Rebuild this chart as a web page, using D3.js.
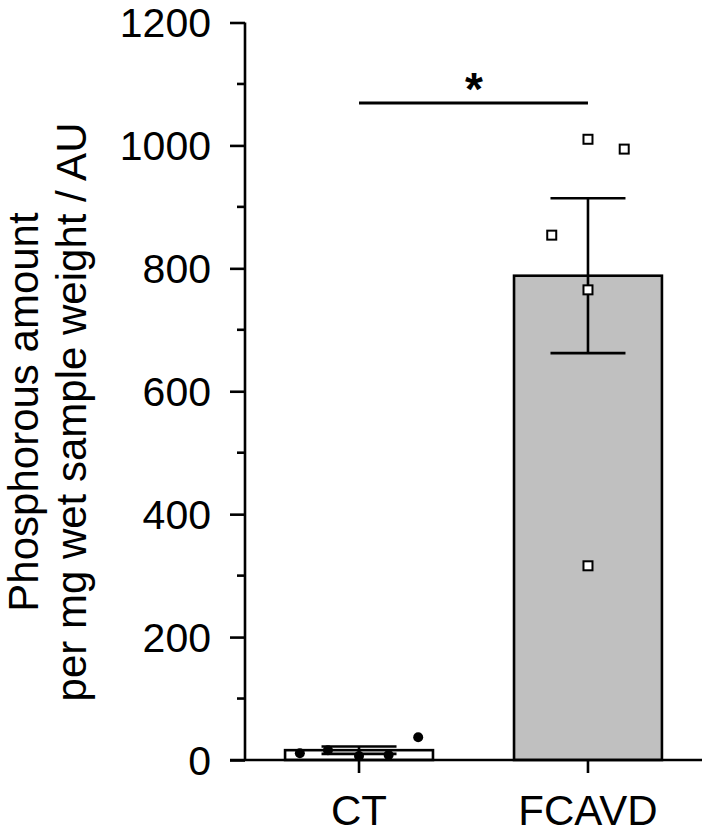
<!DOCTYPE html>
<html>
<head>
<meta charset="utf-8">
<script src="https://cdn.jsdelivr.net/npm/d3@7"></script>
<style>
  html, body { margin: 0; padding: 0; background: #fff; }
  svg { display: block; }
  text { font-family: "Liberation Sans", Arial, sans-serif; fill: #000; }
</style>
</head>
<body>
<svg id="chart" width="708" height="833"></svg>
<script>
// ---- data ----
const groups = ["CT", "FCAVD"];
const means = [16, 788];
const sems = [6, 126];
const ctValues = [11, 16, 6.5, 8, 37];
const ctJitter = [-0.4, -0.21, 0, 0.2, 0.4];
const fcavdValues = [1010, 994, 854, 765, 316];
const fcavdJitter = [0, 0.245, -0.245, 0, 0];
const yTicks = [0, 200, 400, 600, 800, 1000, 1200];
const yMinorTicks = [100, 300, 500, 700, 900, 1100];
const yTitle = ["Phosphorous amount", "per mg wet sample weight / AU"];
const significance = "*";

// ---- layout ----
const svg = d3.select("#chart");
const x0 = 245, x1 = 702, yTop = 22.5, yBot = 760;

const x = d3.scaleBand().domain(groups).range([x0, x1])
  .paddingInner(0.354).paddingOuter(0.175);
const y = d3.scaleLinear().domain([0, 1200]).range([yBot, yTop]);

const fills = ["#ffffff", "#c0c0c0"];
const lw = 2.6;

// bars
svg.append("g").selectAll("rect").data(groups).join("rect")
  .attr("x", d => x(d))
  .attr("y", (d, i) => y(means[i]))
  .attr("width", x.bandwidth())
  .attr("height", (d, i) => y(0) - y(means[i]))
  .attr("fill", (d, i) => fills[i])
  .attr("stroke", "#000")
  .attr("stroke-width", lw);

// error bars
const capW = 75;
const eb = svg.append("g").attr("stroke", "#000").attr("stroke-width", lw);
groups.forEach((g, i) => {
  const cx = x(g) + x.bandwidth() / 2;
  eb.append("line").attr("x1", cx).attr("x2", cx)
    .attr("y1", y(means[i] - sems[i])).attr("y2", y(means[i] + sems[i]));
  [means[i] - sems[i], means[i] + sems[i]].forEach(v => {
    eb.append("line").attr("x1", cx - capW / 2).attr("x2", cx + capW / 2)
      .attr("y1", y(v)).attr("y2", y(v));
  });
});

// points
const ctCx = x("CT") + x.bandwidth() / 2;
svg.append("g").selectAll("circle").data(ctValues).join("circle")
  .attr("cx", (d, i) => ctCx + ctJitter[i] * x.bandwidth())
  .attr("cy", d => y(d))
  .attr("r", 5)
  .attr("fill", "#000");

const fcCx = x("FCAVD") + x.bandwidth() / 2;
const sq = 9;
svg.append("g").selectAll("rect").data(fcavdValues).join("rect")
  .attr("x", (d, i) => fcCx + fcavdJitter[i] * x.bandwidth() - sq / 2)
  .attr("y", d => y(d) - sq / 2)
  .attr("width", sq).attr("height", sq)
  .attr("fill", "#fff")
  .attr("stroke", "#000")
  .attr("stroke-width", 2);

// y axis
const yAxis = svg.append("g").attr("transform", `translate(${x0},0)`)
  .call(d3.axisLeft(y).tickValues(yTicks).tickSize(15).tickPadding(19).tickFormat(d3.format("d")));
yAxis.select(".domain").attr("stroke-width", lw).attr("d", `M0,${yTop}V${yBot}`);
yAxis.selectAll(".tick line").attr("stroke-width", lw);
yAxis.selectAll(".tick text").attr("font-size", 41).attr("font-family", "Liberation Sans, Arial, sans-serif").attr("dy", "0.35em");
svg.append("g").attr("transform", `translate(${x0},0)`)
  .selectAll("line").data(yMinorTicks).join("line")
  .attr("x1", -8).attr("x2", 0)
  .attr("y1", d => y(d)).attr("y2", d => y(d))
  .attr("stroke", "#000").attr("stroke-width", lw);

// x axis
const xAxis = svg.append("g").attr("transform", `translate(0,${yBot})`)
  .call(d3.axisBottom(x).tickSize(13).tickPadding(22));
xAxis.select(".domain").attr("stroke-width", lw).attr("d", `M${x0 - 15},0H${x1}`);
xAxis.selectAll(".tick line").attr("stroke-width", lw);
xAxis.selectAll(".tick text").attr("font-size", 42).attr("font-family", "Liberation Sans, Arial, sans-serif").attr("dy", "0.71em");

// y title
const tg = svg.append("text").attr("transform", "translate(38,412) rotate(-90)")
  .attr("text-anchor", "middle").attr("font-size", 42);
yTitle.forEach((t, i) => {
  tg.append("tspan").attr("x", 0).attr("y", i * 48).text(t);
});

// significance bracket
svg.append("line")
  .attr("x1", ctCx).attr("x2", fcCx)
  .attr("y1", 103).attr("y2", 103)
  .attr("stroke", "#000").attr("stroke-width", 3);
svg.append("text")
  .attr("x", (ctCx + fcCx) / 2 + 0.5).attr("y", 105)
  .attr("text-anchor", "middle")
  .attr("font-size", 46).attr("font-weight", "bold")
  .text(significance);
</script>
</body>
</html>
